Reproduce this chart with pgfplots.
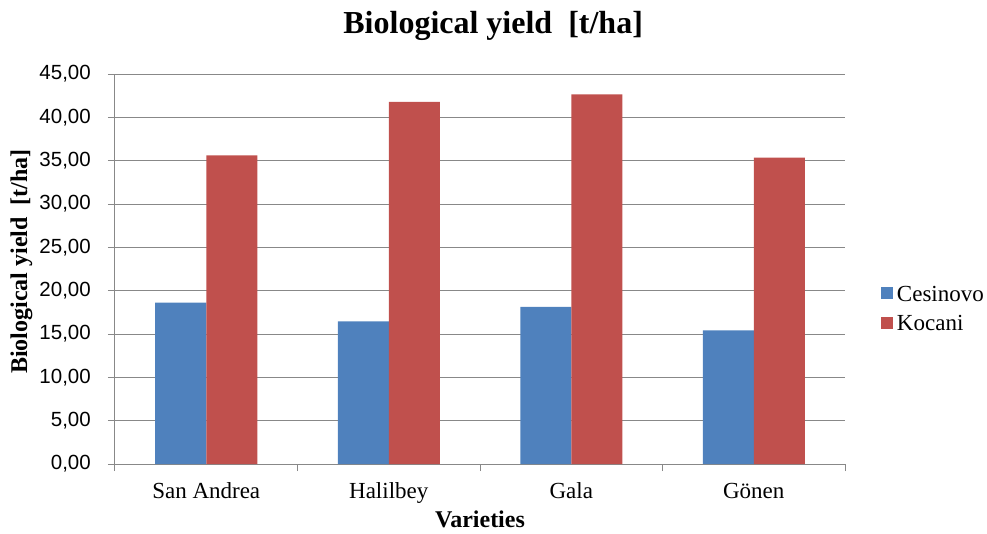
\documentclass[border=0pt]{standalone}
\usepackage{fontspec}
\setmainfont{Liberation Serif}
\setsansfont{Liberation Sans}
\usepackage{pgfplots}
\pgfplotsset{compat=1.18}
\definecolor{cesblue}{HTML}{4F81BD}
\definecolor{kocred}{HTML}{C0504D}
\definecolor{gridgray}{HTML}{888888}
\begin{document}
\begin{tikzpicture}
\path[use as bounding box] (-115pt,-69pt) rectangle (872pt,464pt);
\begin{axis}[
  scale only axis,
  width=730pt, height=390pt,
  at={(0pt,0pt)}, anchor=south west,
  ybar=0pt, bar width=51pt,
  xmin=-0.5, xmax=3.5,
  ymin=0, ymax=45,
  ytick={0,5,...,45},
  xtick={0,1,2,3},
  xticklabels={San Andrea,Halilbey,Gala,Gönen},
  minor xtick={-0.5,0.5,1.5,2.5,3.5},
  axis x line*=bottom, axis y line*=left,
  axis line style={-, draw=gridgray, line width=1pt},
  tick align=outside,
  major tick length=7pt, minor tick length=7pt,
  major x tick style={draw=none},
  minor x tick style={draw=gridgray, line width=1pt},
  major y tick style={draw=gridgray, line width=1pt},
  ymajorgrids,
  major grid style={draw=gridgray, line width=1pt},
  /pgf/number format/.cd, fixed, fixed zerofill, precision=2, use comma, assume math mode=true,
  /pgfplots/.cd,
  yticklabel style={font=\fontsize{20.5}{24}\selectfont\sffamily, anchor=east, inner sep=0pt, xshift=-17pt},
  xticklabel style={font=\fontsize{23}{26}\selectfont, anchor=base, inner sep=0pt, yshift=-27pt},
  title={Biological yield\ \ [t/ha]},
  title style={font=\fontsize{32}{36}\selectfont\bfseries, at={(axis description cs:0.518,1.0897)}, anchor=base, inner sep=0pt},
  xlabel={Varieties},
  xlabel style={font=\fontsize{24}{28}\selectfont\bfseries, at={(axis description cs:0.5,-0.163)}, anchor=base, inner sep=0pt},
  ylabel={Biological yield\ \ [t/ha]},
  ylabel style={font=\fontsize{24}{28}\selectfont\bfseries, at={(axis description cs:-0.1205,0.519)}, anchor=base, inner sep=0pt, rotate=0},
  legend style={at={(axis description cs:1.049,0.40)}, anchor=west, draw=none, fill=none,
    font=\fontsize{23}{26}\selectfont, row sep=14pt, inner sep=0pt,
    nodes={inner sep=0pt, text depth=0pt}},
  legend cell align=left,
  legend image code/.code={\fill[#1] (0pt,-6pt) rectangle (12pt,6pt); \path (16pt,0pt);},
]
\addplot[fill=cesblue, draw=none] coordinates {(0,18.62) (1,16.46) (2,18.12) (3,15.43)};
\addplot[fill=kocred, draw=none] coordinates {(0,35.62) (1,41.77) (2,42.66) (3,35.35)};
\legend{Cesinovo,Kocani}
\end{axis}
\end{tikzpicture}
\end{document}
